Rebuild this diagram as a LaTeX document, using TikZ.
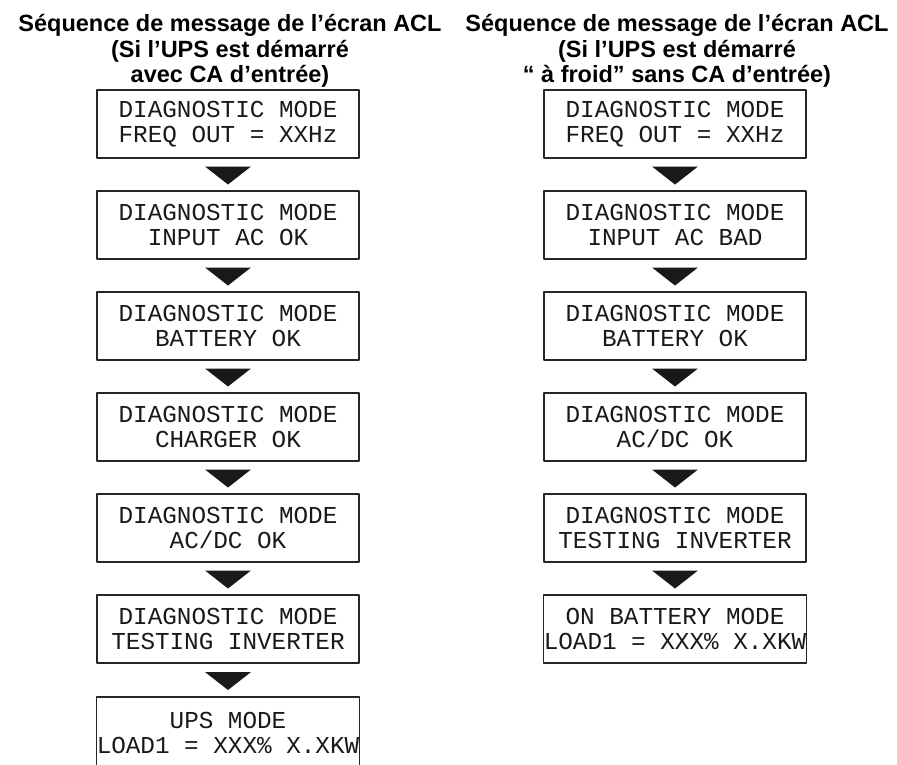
\documentclass[tikz,border=0pt]{standalone}
\usepackage{fontspec}
\setmainfont{Liberation Sans}
\newfontfamily\lcdmono{Liberation Mono}
\newcommand{\lcdfont}{\lcdmono\fontsize{24.3pt}{25pt}\selectfont}
\newcommand{\ttlfont}{\bfseries\fontsize{23.5pt}{25.5pt}\selectfont}
\usetikzlibrary{calc}

\begin{document}
\begin{tikzpicture}[x=1pt, y=-1pt, line join=round, line cap=round,
	lcd/.style={draw=black!85, line width=1.4pt, minimum width=262pt, minimum height=68pt,
		inner sep=0pt, align=center, text=black!90, font=\lcdfont},
	ttl/.style={anchor=north, inner sep=0pt, align=center, font=\ttlfont}]
				\useasboundingbox (0,0) rectangle (897,764);
				% titres
				\node[ttl] (TL) at (230,14.5) {Séquence de message de l’écran ACL\\(Si l’UPS est démarré\\avec CA d’entrée)};
				\node[ttl] (TR) at (677,14.5) {Séquence de message de l’écran ACL\\(Si l’UPS est démarré\\“ à froid” sans CA d’entrée)};
				% colonne gauche
				\foreach \i/\t in {1/{FREQ OUT = XXHz},2/{INPUT AC OK},3/{BATTERY OK},4/{CHARGER OK},5/{AC/DC OK},6/{TESTING INVERTER}}
				\node[lcd] (L\i) at (228,{23+101*\i}) {DIAGNOSTIC MODE\\\t};
				\node[lcd, minimum height=72pt] (L7) at (228,733) {UPS MODE\\LOAD1 = XXX\% X.XKW};
				% colonne droite
				\foreach \i/\t in {1/{FREQ OUT = XXHz},2/{INPUT AC BAD},3/{BATTERY OK},4/{AC/DC OK},5/{TESTING INVERTER}}
				\node[lcd] (R\i) at (675,{23+101*\i}) {DIAGNOSTIC MODE\\\t};
				\node[lcd] (R6) at (675,629) {ON BATTERY MODE\\LOAD1 = XXX\% X.XKW};
				% fleches
				\foreach \a/\b in {L1/L2,L2/L3,L3/L4,L4/L5,L5/L6,L6/L7,R1/R2,R2/R3,R3/R4,R4/R5,R5/R6}
				\fill[black!90] ($(\a.south)!0.5!(\b.north)$) ++(-23,-8) -- ++(46,0) -- ++(-23,18) -- cycle;
		\end{tikzpicture}
\end{document}
